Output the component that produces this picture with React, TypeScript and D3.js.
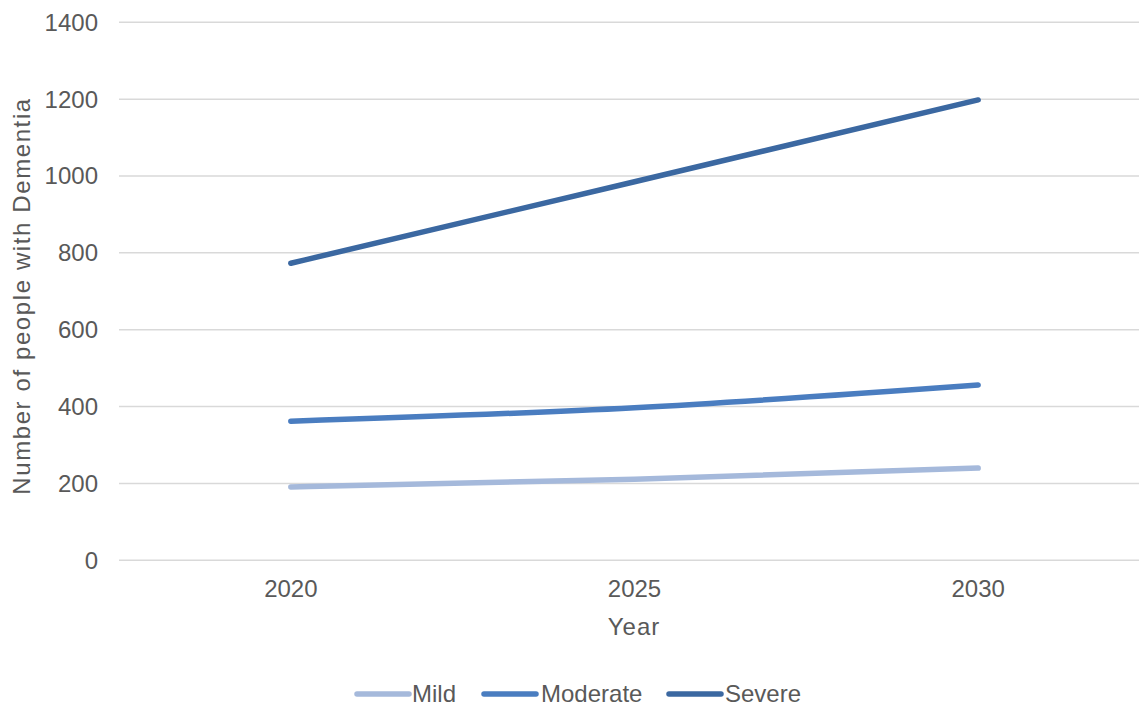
import React from "react";
import * as d3 from "d3";

const years = ["2020", "2025", "2030"];
const mild = [191, 211, 240];
const moderate = [362, 397, 456];
const severe = [773, 985, 1198];
const yTicks = [0, 200, 400, 600, 800, 1000, 1200, 1400];
const seriesNames = ["Mild", "Moderate", "Severe"];
const seriesColors = ["#A5B9DB", "#4A7DC0", "#3B68A1"];

const W = 1139;
const H = 707;
const FONT = "'Liberation Sans', Arial, sans-serif";

export default function App() {
  const x = d3.scaleBand<string>().domain(years).range([119, 1150]);
  const y = d3.scaleLinear().domain([0, 1400]).range([560.3, 22.3]);
  const cx = (yr: string) => (x(yr) as number) + x.bandwidth() / 2;
  const series = [mild, moderate, severe];
  const line = d3
    .line<number>()
    .x((_, i) => cx(years[i]))
    .y((d) => y(d))
    .curve(d3.curveMonotoneX);

  const legendItems = [
    { x0: 357, tx: 412 },
    { x0: 484, tx: 541 },
    { x0: 669, tx: 725 },
  ];

  return (
    <svg
      width={W}
      height={H}
      style={{ position: "absolute", left: 0, top: 0, background: "#fff" }}
      fontFamily={FONT}
    >
      {yTicks.map((t) => (
        <g key={t}>
          <line x1={119} x2={1139} y1={y(t)} y2={y(t)} stroke="#D9D9D9" strokeWidth={1.5} />
          <text x={98} y={y(t)} dy="0.35em" textAnchor="end" fontSize={24} fill="#595959">
            {t}
          </text>
        </g>
      ))}
      {years.map((yr) => (
        <text key={yr} x={cx(yr)} y={589} dy="0.35em" textAnchor="middle" fontSize={24} fill="#595959">
          {yr}
        </text>
      ))}
      <text x={634} y={627} dy="0.35em" textAnchor="middle" fontSize={24} letterSpacing={1} fill="#595959">
        Year
      </text>
      <text
        transform={`translate(22, 296) rotate(-90)`}
        dy="0.35em"
        textAnchor="middle"
        fontSize={24}
        letterSpacing={1.6}
        fill="#595959"
      >
        Number of people with Dementia
      </text>
      {series.map((s, i) => (
        <path
          key={i}
          d={line(s) || ""}
          fill="none"
          stroke={seriesColors[i]}
          strokeWidth={5.5}
          strokeLinecap="round"
        />
      ))}
      {seriesNames.map((n, i) => (
        <g key={n}>
          <line
            x1={legendItems[i].x0}
            x2={legendItems[i].x0 + 52}
            y1={694}
            y2={694}
            stroke={seriesColors[i]}
            strokeWidth={5.5}
            strokeLinecap="round"
          />
          <text x={legendItems[i].tx} y={694} dy="0.35em" fontSize={24} fill="#595959">
            {n}
          </text>
        </g>
      ))}
    </svg>
  );
}
